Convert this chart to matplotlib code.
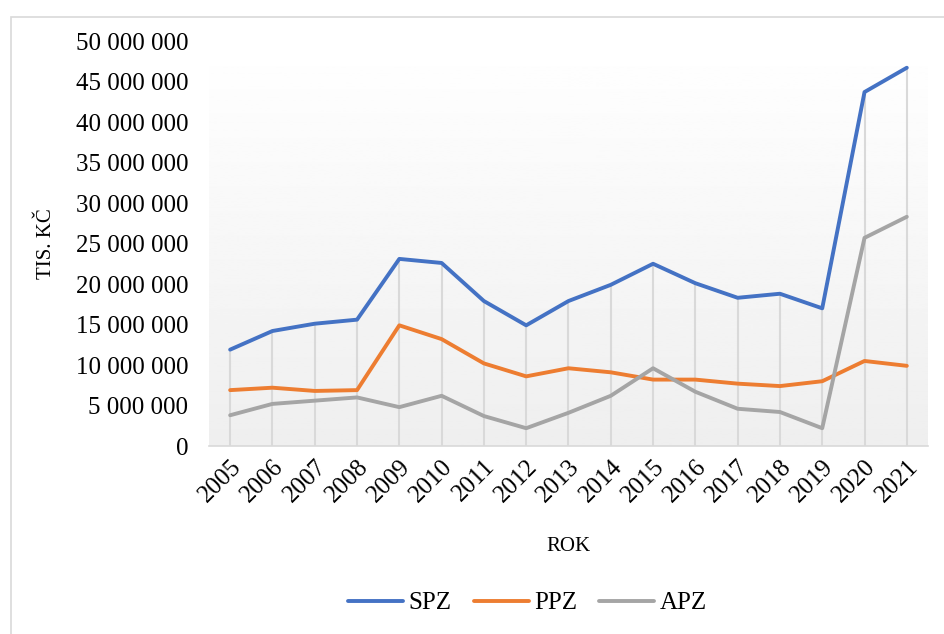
import numpy as np
import matplotlib.pyplot as plt
from matplotlib.patches import Rectangle

plt.rcParams['font.family'] = ['Liberation Serif', 'DejaVu Serif']

# data (tis. Kč)
roky = [str(r) for r in range(2005, 2022)]
spz = [11.9, 14.2, 15.1, 15.6, 23.1, 22.6, 17.9, 14.9, 17.9, 19.9,
       22.5, 20.1, 18.3, 18.8, 17.0, 43.7, 46.7]
ppz = [6.9, 7.2, 6.8, 6.9, 14.9, 13.2, 10.2, 8.6, 9.6, 9.1,
       8.2, 8.2, 7.7, 7.4, 8.0, 10.5, 9.9]
apz = [3.8, 5.2, 5.6, 6.0, 4.8, 6.2, 3.7, 2.2, 4.1, 6.2,
       9.6, 6.7, 4.6, 4.2, 2.2, 25.7, 28.3]
spz = np.array(spz) * 1e6
ppz = np.array(ppz) * 1e6
apz = np.array(apz) * 1e6

fig = plt.figure(figsize=(9.44, 6.34), dpi=100)
ax = fig.add_axes([0.2214, 0.2965, 0.7616, 0.6388])

# outer chart border (only top/left visible)
fig.patches.append(Rectangle((11/944, -0.1), 1.2, 1 - 17/634 + 0.1,
                             transform=fig.transFigure, fill=False,
                             edgecolor='#d9d9d9', linewidth=1.2))

x = np.arange(len(roky))

# gradient fill of plot area
grad = np.linspace(1.0, 0.935, 256).reshape(-1, 1)
ax.imshow(grad, extent=[-0.5, len(roky) - 0.5, 0, 50e6], aspect='auto',
          cmap='gray', vmin=0, vmax=1, zorder=0)

# drop lines
top = np.maximum(np.maximum(spz, ppz), apz)
ax.vlines(x, 0, top, color='#d9d9d9', linewidth=1.5, zorder=1)

ax.plot(x, spz, color='#4472C4', linewidth=2.8, label='SPZ', zorder=3,
        solid_capstyle='round')
ax.plot(x, ppz, color='#ED7D31', linewidth=2.8, label='PPZ', zorder=3,
        solid_capstyle='round')
ax.plot(x, apz, color='#A5A5A5', linewidth=2.8, label='APZ', zorder=3,
        solid_capstyle='round')

ax.set_xlim(-0.5, len(roky) - 0.5)
ax.set_ylim(0, 50e6)
yt = np.arange(0, 50e6 + 1, 5e6)
ax.set_yticks(yt)
ax.set_yticklabels(['{:,}'.format(int(v)).replace(',', ' ') for v in yt],
                   fontsize=18)
ax.set_xticks(x)
ax.set_xticklabels(roky, fontsize=18, rotation=45, ha='right',
                   rotation_mode='anchor')
ax.tick_params(axis='both', length=0)
ax.tick_params(axis='y', pad=15)
ax.tick_params(axis='x', pad=7)

for s in ['top', 'right', 'left']:
    ax.spines[s].set_visible(False)
ax.spines['bottom'].set_color('#d9d9d9')
ax.spines['bottom'].set_linewidth(1.2)

ax.set_xlabel('ROK', fontsize=15, labelpad=22)
ax.set_ylabel('TIS. KČ', fontsize=15, labelpad=14)

ax.legend(loc='center', bbox_to_anchor=(0.443, -0.388), ncol=3,
          frameon=False, fontsize=18, handlelength=2.2, handletextpad=0.2,
          columnspacing=0.9)

plt.savefig('out.png', dpi=100)
